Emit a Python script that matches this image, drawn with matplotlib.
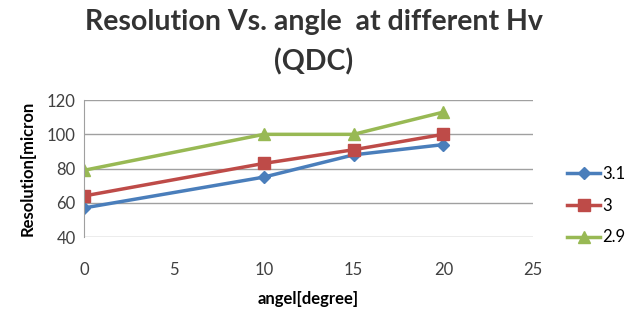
import matplotlib.pyplot as plt

angle = [0, 10, 15, 20]
hv_labels = ['3.1', '3', '2.9']
res_31 = [57, 75, 88, 94]
res_3 = [64, 83, 91, 100]
res_29 = [79, 100, 100, 113]

plt.rcParams['font.family'] = ['Lato', 'DejaVu Sans']

fig = plt.figure(figsize=(6.28, 3.09), dpi=100)
ax = fig.add_axes([0.134, 0.233, 0.715, 0.443])

ax.plot(angle, res_31, color='#4A7EBB', marker='D', markersize=6, linewidth=2.5, label=hv_labels[0])
ax.plot(angle, res_3, color='#BE4B48', marker='s', markersize=8, linewidth=2.5, label=hv_labels[1])
ax.plot(angle, res_29, color='#98B954', marker='^', markersize=9, linewidth=2.5, label=hv_labels[2])

ax.set_xlim(0, 25)
ax.set_ylim(40, 120)
ax.set_xticks([0, 5, 10, 15, 20, 25])
ax.set_yticks([40, 60, 80, 100, 120])
ax.yaxis.grid(True, color='#a0a0a0', linewidth=1)
ax.set_axisbelow(True)
for s in ['top', 'right', 'bottom']:
    ax.spines[s].set_visible(False)
ax.spines['left'].set_color('#a0a0a0')
ax.tick_params(length=0, labelsize=12, colors='#404040')
ax.tick_params(axis='x', pad=18)
ax.tick_params(axis='y', pad=6)
for m in ax.get_xticklabels() + ax.get_yticklabels():
    m.set_clip_on(False)

ax.set_xlabel('angel[degree]', fontsize=12, fontweight='bold', labelpad=9)
ax.set_ylabel('Resolution[micron', fontsize=12, fontweight='bold', labelpad=8)

fig.text(0.5, 0.93, 'Resolution Vs. angle  at different Hv', ha='center', va='center',
         fontsize=20.5, fontweight='bold', color='#333333')
fig.text(0.5, 0.80, '(QDC)', ha='center', va='center',
         fontsize=20.5, fontweight='bold', color='#333333')

ax.legend(loc='center left', bbox_to_anchor=(1.075, 0.23), frameon=False, fontsize=12,
          borderpad=0, borderaxespad=0, handlelength=2.0, handletextpad=0.1,
          labelspacing=0.95)

plt.savefig('out.png')
